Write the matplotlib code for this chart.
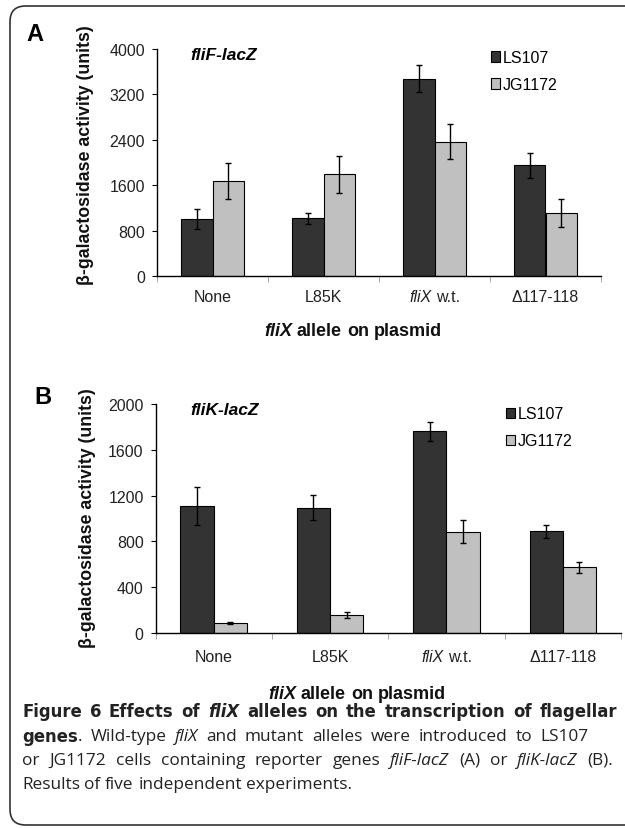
import matplotlib
matplotlib.use("Agg")
import matplotlib.pyplot as plt
from matplotlib.patches import FancyBboxPatch
import numpy as np

plt.rcParams['font.family'] = ['Liberation Sans', 'DejaVu Sans']

W, H = 625, 829

# data
alleles = ["None", "L85K", "fliX w.t.", "\u0394117-118"]
strains = ["LS107", "JG1172"]

fliF_ls107 = [1010, 1020, 3480, 1950]
fliF_ls107_err = [178, 95, 242, 225]
fliF_jg1172 = [1672, 1790, 2370, 1117]
fliF_jg1172_err = [320, 320, 313, 248]

fliK_ls107 = [1108, 1096, 1762, 890]
fliK_ls107_err = [165, 108, 85, 57]
fliK_jg1172 = [90, 157, 884, 573]
fliK_jg1172_err = [10, 25, 100, 50]

dark = "#333333"
light = "#c0c0c0"

fig = plt.figure(figsize=(W / 100, H / 100), dpi=100)
renderer = fig.canvas.get_renderer()


def fx(px):
    return px / W


def fy(py):
    return 1 - py / H


STYLES = {
    'n': dict(weight='normal', style='normal'),
    'b': dict(weight='bold', style='normal'),
    'i': dict(weight='normal', style='italic'),
    'bi': dict(weight='bold', style='italic'),
}


def draw_runs(x, y, runs, size, family, ha='left', color='black', width=None,
              bold_family=None, bold_size=None):
    # split into words so spaces are handled by hand
    tokens = []
    for txt, st in runs:
        words = txt.split(' ')
        for k, w in enumerate(words):
            if w:
                tokens.append([w, st, False])
            if k < len(words) - 1 and tokens:
                tokens[-1][2] = True
    objs = []
    total = 0
    nsp = 0
    for w, st, sp in tokens:
        fam, sz = family, size
        if st.startswith('b') and bold_family:
            fam, sz = bold_family, bold_size
        t = fig.text(0, 0, w, fontsize=sz, family=fam, color=color,
                     va='center', ha='left', **STYLES[st])
        wd = t.get_window_extent(renderer).width
        a = fig.text(0, 0, "x x", fontsize=sz, family=fam, **STYLES[st])
        b = fig.text(0, 0, "xx", fontsize=sz, family=fam, **STYLES[st])
        spw = a.get_window_extent(renderer).width - b.get_window_extent(renderer).width
        a.remove()
        b.remove()
        objs.append([t, wd, spw if sp else 0])
        total += wd + (spw if sp else 0)
        nsp += 1 if sp else 0
    # stretch the spaces when a line width is given (justified caption)
    if width is not None and nsp and width > total:
        extra = (width - total) / nsp
        for o in objs:
            if o[2]:
                o[2] += extra
        total = width
    if ha == 'center':
        x = x - total / 2
    for t, wd, spw in objs:
        t.set_position((fx(x), fy(y)))
        x += wd + spw


def panel(rect, ls, ls_err, jg, jg_err, ymax, step, reporter, letter, letter_xy,
          ylab_xy, xlab_y, leg_y):
    ax = fig.add_axes(rect)
    x = np.arange(len(alleles))
    w = 1 / 3.5
    ax.bar(x - w / 2, ls, w, yerr=ls_err, color=dark, edgecolor='black',
           linewidth=0.8, label=strains[0],
           error_kw=dict(elinewidth=1, capsize=2.5, capthick=1, ecolor='black'))
    ax.bar(x + w / 2, jg, w, yerr=jg_err, color=light, edgecolor='black',
           linewidth=0.8, label=strains[1],
           error_kw=dict(elinewidth=1, capsize=2.5, capthick=1, ecolor='black'))
    ax.set_xlim(-0.5, len(alleles) - 0.5)
    ax.set_ylim(0, ymax)
    ax.set_yticks(np.arange(0, ymax + 1, step))
    ax.set_xticks(x)
    ax.set_xticklabels([])
    ax.set_xticks(np.arange(-0.5, len(alleles), 1), minor=True)
    ax.tick_params(axis='x', which='major', length=0)
    ax.tick_params(axis='x', which='minor', length=4, color='#999999', direction='out')
    ax.tick_params(axis='y', length=3.5, width=0.8, direction='out', pad=5,
                   labelsize=11.5, labelcolor='#222222')
    for s in ['top', 'right']:
        ax.spines[s].set_visible(False)
    for s in ['left', 'bottom']:
        ax.spines[s].set_linewidth(1)
        ax.spines[s].set_color('black')

    # category labels
    for i, name in enumerate(alleles):
        xd = ax.transData.transform((i, 0))[0]
        if name.startswith("fliX"):
            draw_runs(xd, xlab_y[0], [("fliX", 'i'), (" w.t.", 'n')], 11.5,
                      'Liberation Sans', ha='center', color='#222222')
        else:
            draw_runs(xd, xlab_y[0], [(name, 'n')], 11.5, 'Liberation Sans',
                      ha='center', color='#222222')

    draw_runs(xlab_y[2], xlab_y[1], [("fliX", 'bi'), (" allele on plasmid", 'b')],
              13, 'Liberation Sans', ha='center', color='#111111')

    fig.text(fx(ylab_xy[0]), fy(ylab_xy[1]), "\u03b2-galactosidase activity (units)",
             rotation=90, ha='center', va='center', fontsize=12.8, weight='bold',
             color='#111111')
    fig.text(fx(letter_xy[0]), fy(letter_xy[1]), letter, ha='center', va='center',
             fontsize=17, weight='bold')
    ax.text(0.075, 0.974, reporter, transform=ax.transAxes, fontsize=12.5,
            weight='bold', style='italic', va='center', ha='left')
    ax.legend(loc='upper left', bbox_to_anchor=(0.752, leg_y), frameon=False,
              fontsize=11.5, handlelength=0.6, handleheight=0.6, handletextpad=0.15,
              labelspacing=0.75, borderpad=0, borderaxespad=0)
    return ax


panel([fx(157), fy(277), (601 - 157) / W, 227 / H],
      fliF_ls107, fliF_ls107_err, fliF_jg1172, fliF_jg1172_err, 4000, 800,
      "fliF-lacZ", "A", (35, 34.5), (85, 155), (297, 331, 353), 0.995)

panel([fx(155.5), fy(634), (621 - 155.5) / W, 229 / H],
      fliK_ls107, fliK_ls107_err, fliK_jg1172, fliK_jg1172_err, 2000, 400,
      "fliK-lacZ", "B", (43, 398), (87, 518.5), (657, 695, 357), 0.99)

# caption
cap_font = 'Open Sans'
cap_size = 12.4
cap_lines = [
    [("Figure 6 Effects of ", 'b'), ("fliX", 'bi'),
     (" alleles on the transcription of flagellar", 'b')],
    [("genes", 'b'), (". Wild-type ", 'n'), ("fliX", 'i'),
     (" and mutant alleles were introduced to LS107", 'n')],
    [("or JG1172 cells containing reporter genes ", 'n'), ("fliF-lacZ", 'i'),
     (" (A) or ", 'n'), ("fliK-lacZ", 'i'), (" (B).", 'n')],
    [("Results of five independent experiments.", 'n')],
]
cap_y = [712, 737, 761, 785]
cap_w = [595, 567, 591, None]
for runs, yy, ww in zip(cap_lines, cap_y, cap_w):
    draw_runs(22, yy, runs, cap_size, cap_font, color='#222222', width=ww,
              bold_family='DejaVu Sans', bold_size=11.9)

# rounded frame, cut off at the right edge like the original
frame = FancyBboxPatch((fx(10), fy(826)), fx(700), (826 - 7) / H,
                       boxstyle="round,pad=0,rounding_size=0.025",
                       transform=fig.transFigure, facecolor='none',
                       edgecolor='#333333', linewidth=1.2, clip_on=False,
                       mutation_aspect=W / H)
fig.patches.append(frame)

fig.savefig("out.png", dpi=100)
